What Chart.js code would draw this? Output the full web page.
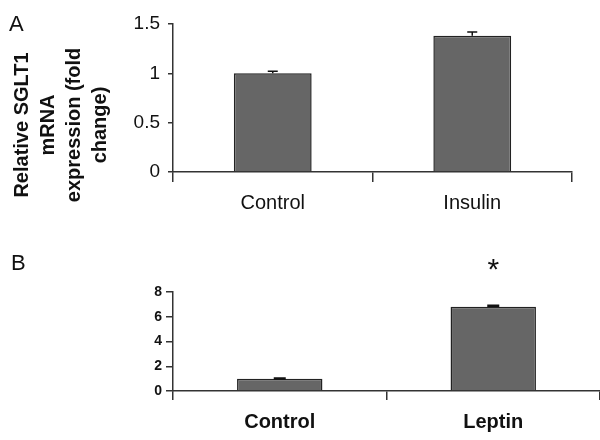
<!DOCTYPE html>
<html>
<head>
<meta charset="utf-8">
<script src="https://cdn.jsdelivr.net/npm/chart.js@4"></script>
<style>
  html, body { margin: 0; padding: 0; background: #fff; }
  .panel { position: absolute; left: 0; width: 600px; height: 220px; }
</style>
</head>
<body>
<canvas id="chartA" class="panel" width="600" height="220" style="top:0"></canvas>
<canvas id="chartB" class="panel" width="600" height="220" style="top:220px"></canvas>
<script>
// Panel A - insulin
const insulinLabels = ['Control', 'Insulin'];
const insulinValues = [1.0, 1.38];
const insulinErrors = [0.02, 0.04];
const insulinTicks = [0, 0.5, 1, 1.5];

// Panel B - leptin
const leptinLabels = ['Control', 'Leptin'];
const leptinValues = [1.0, 6.8];
const leptinErrors = [0.02, 0.08];
const leptinMarks = ['', '*'];
const leptinTicks = [0, 2, 4, 6, 8];

const yTitleLines = ['Relative SGLT1', 'mRNA', 'expression (fold', 'change)'];

const FONT = "'Liberation Sans', Arial, sans-serif";
const AXIS = '#333';

// error bars (and significance marks) drawn from the y scale
const errorBars = {
    id: 'errorBars',
    afterDatasetsDraw: function(chart, args, opts) {
        const ctx = chart.ctx;
        const y = chart.scales.y;
        const values = chart.data.datasets[0].data;
        ctx.save();
        ctx.strokeStyle = '#111';
        ctx.lineWidth = opts.lineWidth;
        chart.getDatasetMeta(0).data.forEach((bar, i) => {
            const top = y.getPixelForValue(values[i] + opts.errors[i]);
            ctx.beginPath();
            ctx.moveTo(bar.x, bar.y);
            ctx.lineTo(bar.x, top);
            ctx.moveTo(bar.x - opts.cap / 2, top);
            ctx.lineTo(bar.x + opts.cap / 2, top);
            ctx.stroke();
            if (opts.marks && opts.marks[i]) {
                ctx.fillStyle = '#111';
                ctx.font = opts.markFont;
                ctx.textAlign = 'center';
                ctx.textBaseline = 'alphabetic';
                ctx.fillText(opts.marks[i], bar.x, top - opts.markGap);
            }
        });
        ctx.restore();
    }
};

// panel letter and the rotated, multi-line y title
const panelText = {
    id: 'panelText',
    afterDraw: function(chart, args, opts) {
        const ctx = chart.ctx;
        ctx.save();
        ctx.fillStyle = '#111';
        ctx.font = opts.letterFont;
        ctx.textAlign = 'left';
        ctx.textBaseline = 'alphabetic';
        ctx.fillText(opts.letter, opts.letterX, opts.letterY);

        ctx.font = opts.titleFont;
        ctx.textAlign = 'center';
        ctx.textBaseline = 'middle';
        ctx.translate(opts.titleX, opts.titleY);
        ctx.rotate(-Math.PI / 2);
        opts.lines.forEach((line, i) => ctx.fillText(line, 0, i * opts.lineHeight));
        ctx.restore();
    }
};

function makeChart(id, cfg) {
    const ctx = document.getElementById(id).getContext('2d');
    return new Chart(ctx, {
        type: 'bar',
        data: {
            labels: cfg.labels,
            datasets: [{
                data: cfg.values,
                backgroundColor: '#666666',
                borderColor: '#222',
                borderWidth: 1.5,
                categoryPercentage: 1,
                barPercentage: cfg.barPct
            }]
        },
        options: {
            responsive: false,
            animation: false,
            layout: { padding: cfg.padding },
            plugins: {
                legend: { display: false },
                tooltip: { enabled: false },
                errorBars: cfg.errorBars,
                panelText: cfg.panelText
            },
            scales: {
                x: {
                    grid: { drawOnChartArea: false, drawTicks: true, tickLength: cfg.xTickLength, color: AXIS, lineWidth: 1.5 },
                    border: { color: AXIS, width: 1.5 },
                    ticks: { color: '#111', padding: cfg.xPad, font: cfg.xFont },
                    afterFit: s => { s.height = cfg.xHeight; }
                },
                y: {
                    min: cfg.ticks[0],
                    max: cfg.ticks[cfg.ticks.length - 1],
                    afterBuildTicks: s => { s.ticks = cfg.ticks.map(v => ({ value: v })); },
                    grid: { drawOnChartArea: false, drawTicks: true, tickLength: cfg.yTickLength, color: AXIS, lineWidth: 1.5 },
                    border: { color: AXIS, width: 1.5 },
                    ticks: { color: '#111', padding: cfg.yPad, font: cfg.yFont, callback: v => String(v) },
                    afterFit: s => { s.width = 173; }
                }
            }
        },
        plugins: [errorBars, panelText]
    });
}

makeChart('chartA', {
    labels: insulinLabels,
    values: insulinValues,
    ticks: insulinTicks,
    barPct: 0.39,
    padding: { top: 24, right: 28, left: 0, bottom: 0 },
    xHeight: 48, xTickLength: 10, xPad: 9,
    xFont: { family: FONT, size: 20 },
    yTickLength: 5, yPad: 8,
    yFont: { family: FONT, size: 19 },
    errorBars: { errors: insulinErrors, cap: 10, lineWidth: 1.5 },
    panelText: {
        letter: 'A', letterX: 9, letterY: 31, letterFont: '22px ' + FONT,
        lines: yTitleLines, titleFont: 'bold 20px ' + FONT,
        titleX: 22, titleY: 125, lineHeight: 26
    }
});

makeChart('chartB', {
    labels: leptinLabels,
    values: leptinValues,
    ticks: leptinTicks,
    barPct: 0.40,
    padding: { top: 72, right: 0, left: 0, bottom: 0 },
    xHeight: 49, xTickLength: 9, xPad: 10,
    xFont: { family: FONT, size: 20, weight: 'bold' },
    yTickLength: 7, yPad: 4,
    yFont: { family: FONT, size: 14, weight: 'bold' },
    errorBars: { errors: leptinErrors, cap: 12, lineWidth: 2.5, marks: leptinMarks, markFont: '30px ' + FONT, markGap: 27 },
    panelText: {
        letter: 'B', letterX: 11, letterY: 50, letterFont: '22px ' + FONT,
        lines: yTitleLines, titleFont: 'bold 20px ' + FONT,
        titleX: 24.5, titleY: 362, lineHeight: 26.5
    }
});
</script>
</body>
</html>
